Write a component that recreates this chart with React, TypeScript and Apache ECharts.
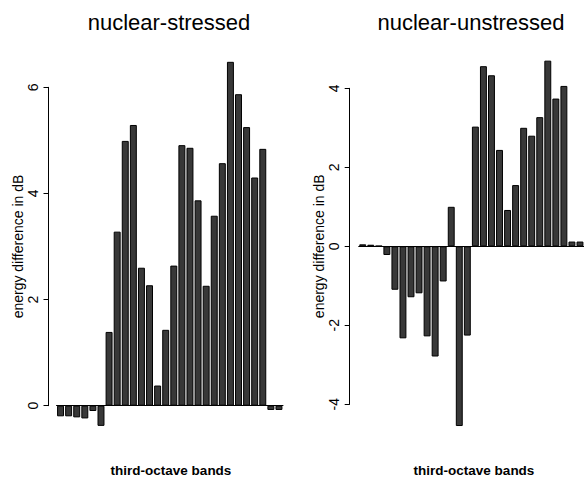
import React, { useEffect, useRef } from "react";
import * as echarts from "echarts";

const bands: string[] = Array.from({ length: 28 }, (_, i) => `B${i + 1}`);

const stressedValues: number[] = [
  -0.2, -0.2, -0.22, -0.24, -0.1, -0.38,
  1.39, 3.28, 4.99, 5.29, 2.6, 2.27, 0.38, 1.43, 2.64, 4.91, 4.86, 3.87, 2.26, 3.58,
  4.57, 6.48, 5.87, 5.25, 4.3, 4.84,
  -0.08, -0.08,
];

const unstressedValues: number[] = [
  0.05, 0.04, 0.01, -0.22, -1.1, -2.33, -1.29, -1.19, -2.28, -2.79, -0.89, 1.0,
  -4.55, -2.26, 3.03, 4.56, 4.33, 2.44, 0.92, 1.55, 3.0, 2.8, 3.27, 4.7, 3.74, 4.06,
  0.12, 0.12,
];

const panelTitles: string[] = ["nuclear-stressed", "nuclear-unstressed"];
const xLabel = "third-octave bands";
const yLabel = "energy difference in dB";

const FONT = '"Liberation Sans", Arial, Helvetica, sans-serif';

export default function App() {
  const ref = useRef<HTMLDivElement>(null);

  useEffect(() => {
    if (!ref.current) return;
    const chart = echarts.init(ref.current, null, { renderer: "svg" });

    const axisLabelStyle = {
      rotate: 90,
      fontSize: 14,
      color: "#000",
      fontFamily: FONT,
      margin: 9,
    };

    const yCommon = {
      type: "value" as const,
      interval: 2,
      splitLine: { show: false },
      axisLine: { show: true, lineStyle: { color: "#000", width: 1 } },
      axisTick: { show: true, length: 5, lineStyle: { color: "#000" } },
      axisLabel: axisLabelStyle,
      name: yLabel,
      nameLocation: "middle" as const,
      nameRotate: 90,
      nameGap: 24,
      nameTextStyle: { fontSize: 14, color: "#000", fontFamily: FONT },
    };

    const xCommon = {
      type: "category" as const,
      data: bands,
      axisLine: { show: true, onZero: true, lineStyle: { color: "#000", width: 1 } },
      axisTick: { show: false },
      axisLabel: { show: false },
      splitLine: { show: false },
    };

    const barStyle = {
      color: "#383838",
      borderColor: "#000",
      borderWidth: 1,
    };

    const mainTitleStyle = { fontSize: 22, fontWeight: "normal", color: "#000", fontFamily: FONT };
    const xLabelStyle = { fontSize: 13.5, fontWeight: "bold", color: "#000", fontFamily: FONT };

    chart.setOption({
      animation: false,
      backgroundColor: "#fff",
      title: [
        { text: panelTitles[0], left: 169, top: 11, padding: 0, textAlign: "center", textStyle: mainTitleStyle },
        { text: panelTitles[1], left: 471, top: 11, padding: 0, textAlign: "center", textStyle: mainTitleStyle },
        { text: xLabel, left: 171, top: 463, padding: 0, textAlign: "center", textStyle: xLabelStyle },
        { text: xLabel, left: 474, top: 463, padding: 0, textAlign: "center", textStyle: xLabelStyle },
      ],
      grid: [
        { left: 56.5, top: 87.3, width: 226.5, height: 318.4 },
        { left: 358.7, top: 88.3, width: 225.6, height: 316 },
      ],
      xAxis: [
        { ...xCommon, gridIndex: 0 },
        { ...xCommon, gridIndex: 1 },
      ],
      yAxis: [
        { ...yCommon, gridIndex: 0, min: 0, max: 6, offset: 8 },
        { ...yCommon, gridIndex: 1, min: -4, max: 4, offset: 9 },
      ],
      series: [
        {
          type: "bar",
          xAxisIndex: 0,
          yAxisIndex: 0,
          data: stressedValues,
          barCategoryGap: "14%",
          clip: false,
          itemStyle: barStyle,
        },
        {
          type: "bar",
          xAxisIndex: 1,
          yAxisIndex: 1,
          data: unstressedValues,
          barCategoryGap: "14%",
          clip: false,
          itemStyle: barStyle,
        },
      ],
    });

    return () => chart.dispose();
  }, []);

  return (
    <div
      ref={ref}
      style={{ position: "fixed", left: 0, top: 0, width: 584, height: 480 }}
    />
  );
}
